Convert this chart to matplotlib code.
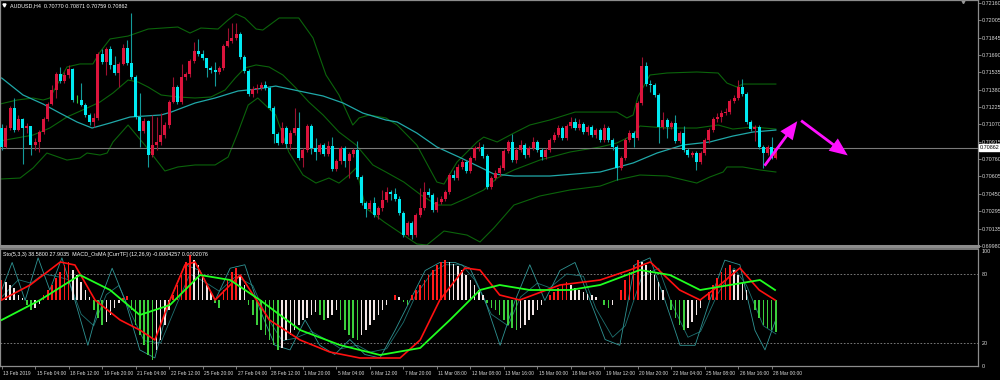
import matplotlib
matplotlib.use("Agg")
import matplotlib.pyplot as plt
import matplotlib.transforms as mtransforms
from matplotlib.patches import FancyArrowPatch
import numpy as np

# ---------------- data ----------------
symbol_title = "AUDUSD,H4  0.70770 0.70871 0.70759 0.70862"
sub_title = "Sto(5,3,3) 38.5800 27.9035  MACD_OsMA [CurrTF] (12,26,9) -0.0004257 0.0002076"

first_open = 0.71037
closes = [0.70867,0.71037,0.71216,0.71019,0.71118,0.71037,0.71055,0.70885,0.70912,0.71001,
          0.71118,0.71252,0.71378,0.71521,0.71458,0.71512,0.71566,0.71288,0.71288,0.71243,
          0.71154,0.71091,0.71127,0.71700,0.71628,0.71745,0.71602,0.71530,0.71611,0.71754,
          0.71619,0.71494,0.71136,0.71010,0.71100,0.70795,0.70885,0.70912,0.70974,0.71064,
          0.71270,0.71404,0.71270,0.71494,0.71521,0.71637,0.71727,0.71700,0.71664,0.71575,
          0.71557,0.71539,0.71575,0.71772,0.71817,0.71844,0.71879,0.71673,0.71548,0.71342,
          0.71387,0.71396,0.71422,0.71396,0.71216,0.70983,0.70903,0.71037,0.70894,0.70992,
          0.71037,0.70768,0.70840,0.71055,0.70858,0.70822,0.70885,0.70804,0.70876,0.70670,
          0.70741,0.70858,0.70741,0.70804,0.70840,0.70598,0.70365,0.70311,0.70365,0.70258,
          0.70320,0.70392,0.70464,0.70446,0.70401,0.70276,0.70078,0.70186,0.70078,0.70258,
          0.70320,0.70464,0.70437,0.70302,0.70374,0.70401,0.70464,0.70616,0.70589,0.70688,
          0.70732,0.70652,0.70768,0.70858,0.70867,0.70786,0.70508,0.70589,0.70634,0.70679,
          0.70831,0.70912,0.70750,0.70840,0.70885,0.70795,0.70858,0.70912,0.70840,0.70777,
          0.70840,0.70930,0.70974,0.71037,0.70948,0.71055,0.71091,0.71037,0.71073,0.71001,
          0.71046,0.70974,0.71019,0.70930,0.71037,0.70930,0.70867,0.70679,0.70768,0.70930,
          0.70992,0.70948,0.71261,0.71593,0.71431,0.71422,0.71333,0.71046,0.71109,0.71046,
          0.71082,0.70921,0.70992,0.70840,0.70795,0.70813,0.70732,0.70813,0.70930,0.71019,
          0.71118,0.71136,0.71171,0.71180,0.71279,0.71306,0.71404,0.71342,0.71091,0.71028,
          0.71046,0.70867,0.70813,0.70867,0.70770,0.70862]
highs = [0.71073,0.71064,0.71234,0.71306,0.71154,0.71127,0.71082,0.71055,0.70948,0.71019,
         0.71136,0.71270,0.71422,0.71539,0.71584,0.71539,0.71602,0.71575,0.71333,0.71440,
         0.71261,0.71171,0.71171,0.71718,0.71745,0.71763,0.71772,0.71682,0.71628,0.71790,
         0.71826,0.72068,0.71512,0.71351,0.71127,0.71109,0.71154,0.71136,0.71171,0.71091,
         0.71288,0.71494,0.71422,0.71611,0.71539,0.71655,0.71808,0.71835,0.71736,0.71664,
         0.71593,0.71628,0.71593,0.71790,0.71933,0.71978,0.71978,0.71897,0.71691,0.71566,
         0.71413,0.71431,0.71449,0.71458,0.71413,0.71234,0.71001,0.71091,0.71055,0.71019,
         0.71216,0.71180,0.70858,0.71073,0.71073,0.70948,0.70903,0.70903,0.70921,0.70956,
         0.70759,0.70876,0.70876,0.70822,0.70858,0.70921,0.70616,0.70383,0.70392,0.70419,
         0.70338,0.70482,0.70508,0.70482,0.70500,0.70428,0.70293,0.70204,0.70204,0.70276,
         0.70500,0.70553,0.70500,0.70455,0.70419,0.70428,0.70482,0.70634,0.70661,0.70715,
         0.70759,0.70750,0.70786,0.70876,0.70912,0.70894,0.70804,0.70607,0.70661,0.70706,
         0.70849,0.70930,0.70983,0.70867,0.70930,0.70903,0.70876,0.70956,0.70930,0.70858,
         0.70858,0.70948,0.71001,0.71064,0.71055,0.71073,0.71136,0.71127,0.71118,0.71091,
         0.71064,0.71064,0.71037,0.71037,0.71073,0.71055,0.70948,0.70885,0.70786,0.70948,
         0.71019,0.71010,0.71279,0.71673,0.71628,0.71467,0.71440,0.71351,0.71180,0.71127,
         0.71100,0.71154,0.71010,0.71055,0.70858,0.70831,0.70831,0.70831,0.70948,0.71037,
         0.71136,0.71171,0.71198,0.71216,0.71297,0.71333,0.71467,0.71476,0.71360,0.71109,
         0.71064,0.71064,0.70885,0.70885,0.70956,0.70871]
lows = [0.70840,0.70858,0.71019,0.71001,0.71010,0.70715,0.70992,0.70795,0.70840,0.70822,
        0.70983,0.71100,0.71243,0.71306,0.71440,0.71440,0.71485,0.71270,0.71261,0.71234,
        0.71136,0.71064,0.71046,0.71109,0.71611,0.71512,0.71566,0.71512,0.71404,0.71602,
        0.71602,0.71476,0.71118,0.70867,0.70992,0.70688,0.70777,0.70840,0.70885,0.70948,
        0.71037,0.71261,0.71252,0.71252,0.71467,0.71494,0.71619,0.71682,0.71646,0.71494,
        0.71530,0.71413,0.71521,0.71557,0.71763,0.71799,0.71826,0.71655,0.71530,0.71324,
        0.71315,0.71351,0.71378,0.71378,0.71198,0.70903,0.70885,0.70894,0.70858,0.70840,
        0.70974,0.70750,0.70688,0.70822,0.70804,0.70750,0.70804,0.70786,0.70786,0.70652,
        0.70652,0.70715,0.70688,0.70589,0.70777,0.70580,0.70347,0.70240,0.70293,0.70240,
        0.70222,0.70293,0.70374,0.70392,0.70383,0.70258,0.70060,0.70069,0.70043,0.70060,
        0.70240,0.70302,0.70419,0.70284,0.70284,0.70356,0.70383,0.70446,0.70571,0.70571,
        0.70670,0.70634,0.70634,0.70750,0.70831,0.70768,0.70491,0.70491,0.70571,0.70607,
        0.70661,0.70813,0.70732,0.70724,0.70822,0.70768,0.70777,0.70840,0.70822,0.70750,
        0.70759,0.70822,0.70912,0.70956,0.70930,0.70930,0.71037,0.71019,0.71019,0.70983,
        0.70974,0.70956,0.70948,0.70912,0.70912,0.70912,0.70840,0.70571,0.70661,0.70750,
        0.70912,0.70867,0.70930,0.71243,0.71413,0.71360,0.71315,0.70903,0.71028,0.70948,
        0.71028,0.70903,0.70903,0.70822,0.70777,0.70777,0.70661,0.70715,0.70795,0.70903,
        0.71001,0.71091,0.71091,0.71154,0.71163,0.71261,0.71288,0.71324,0.71073,0.71010,
        0.70921,0.70849,0.70679,0.70795,0.70759,0.70759]

# moving average (cyan) knots: (bar index, price)
ma_idx = [0,5.1,9.9,13.9,18,21.6,25.9,30.7,38.1,40.5,46.2,51,56.5,61.2,65.5,71,76.8,81.6,86.3,91.8,
          94.5,99.2,104,109.8,115.2,117.6,122.4,131,143,150.9,156.6,162.8,169.2,174.7,179.5,185]
ma_val = [0.71485,0.71333,0.71252,0.71171,0.71091,0.71037,0.71082,0.71136,0.71154,0.71180,0.71261,
          0.71306,0.71369,0.71387,0.71413,0.71369,0.71324,0.71261,0.71171,0.71109,0.71091,0.70992,
          0.70867,0.70768,0.70670,0.70625,0.70607,0.70607,0.70643,0.70724,0.70813,0.70885,0.70912,
          0.70965,0.71001,0.71019]

# envelope / bands (green) knots
up_idx = [-0.4,3.7,7.5,9.9,11.5,15.6,18.7,21.8,23.5,25.9,30.2,35,42.1,45,47.6,51.7,54.1,56,58.1,60.8,
          62.4,66.3,71,74.4,77.5,80.6,83.9,85.4,87.8,91.8,94.5,99.2,104,105.7,108.8,113.6,115.2,118.4,
          122.4,126.2,131,137,143,147,149.4,150.9,152,154.9,159,166.1,171.2,173.3,175.7,177.1,185]
up_val = [0.71252,0.71288,0.71306,0.71288,0.71306,0.71584,0.71611,0.71611,0.71718,0.71835,0.71861,
          0.71924,0.71942,0.71888,0.71933,0.71924,0.72005,0.72059,0.72023,0.71924,0.71915,0.72023,
          0.72023,0.71844,0.71512,0.71333,0.71064,0.71127,0.71154,0.71127,0.71064,0.70885,0.70553,
          0.70535,0.70732,0.70912,0.70956,0.70912,0.70992,0.71064,0.71109,0.71180,0.71180,0.71180,
          0.71127,0.71154,0.71315,0.71512,0.71530,0.71539,0.71530,0.71440,0.71404,0.71431,0.71431]
mid_idx = [-0.4,7.5,11.5,15.6,20.4,23.5,26.6,30.2,32.6,35,38.1,42.1,46.2,50,53.4,55.8,58.1,60.8,63.9,
           67.2,70.3,73.4,76.8,80.6,84.7,88.7,91.8,96.1,100.2,104,107.4,111.2,115.2,118.4,122.4,128.6,
           135.8,143,147,150.9,152.5,159,166.1,171.2,174.7,179.5,185]
mid_val = [0.70921,0.70974,0.71037,0.71136,0.71216,0.71270,0.71351,0.71467,0.71449,0.71404,0.71333,
           0.71315,0.71306,0.71315,0.71378,0.71485,0.71575,0.71602,0.71584,0.71512,0.71396,0.71270,
           0.71154,0.71001,0.70885,0.70706,0.70643,0.70553,0.70437,0.70347,0.70347,0.70410,0.70482,
           0.70589,0.70661,0.70750,0.70822,0.70867,0.70903,0.70974,0.71055,0.71037,0.71037,0.71064,
           0.71028,0.71046,0.71028]
low_idx = [-0.4,4.4,7.5,10.8,15.6,18.7,20.4,23.5,25.2,26.6,30.2,34.2,39,42.1,46.2,51,54.1,56.5,58.9,
           61.2,65.5,68.6,72,75.1,78.2,80.6,83,84.7,87,91.4,99.2,101.6,105.7,111.2,114.3,117.6,122.4,
           128.6,135.8,143,147,152.5,159,166.1,169.2,172.4,173.3,177.1,181.2,185]
low_val = [0.70580,0.70589,0.70679,0.70813,0.70750,0.70768,0.70813,0.70795,0.70813,0.70912,0.71064,
           0.70885,0.70652,0.70688,0.70706,0.70706,0.70777,0.71001,0.71243,0.71306,0.71154,0.70822,
           0.70616,0.70544,0.70589,0.70544,0.70616,0.70679,0.70320,0.70195,0.69998,0.69989,0.70114,
           0.70078,0.70016,0.70141,0.70347,0.70428,0.70482,0.70517,0.70571,0.70616,0.70607,0.70544,
           0.70598,0.70643,0.70688,0.70688,0.70661,0.70643]

# magenta arrows drawn on chart: (bar index, price)
arrow1 = [(181.9, 0.70679), (190.5, 0.71118)]
arrow2 = [(190.5, 0.71118), (202.7, 0.70777)]

price_ticks = [0.72160,0.72005,0.71845,0.71690,0.71535,0.71380,0.71225,0.71070,0.70915,
               0.70760,0.70605,0.70450,0.70295,0.70135,0.69980]
last_price = 0.70862

time_tick_idx = list(range(0, 185, 8))
time_labels = ["13 Feb 2019","15 Feb 04:00","18 Feb 12:00","19 Feb 20:00","21 Feb 04:00",
               "22 Feb 12:00","25 Feb 20:00","27 Feb 04:00","28 Feb 12:00","1 Mar 20:00",
               "5 Mar 04:00","6 Mar 12:00","7 Mar 20:00","11 Mar 08:00","12 Mar 08:00",
               "13 Mar 16:00","15 Mar 00:00","18 Mar 04:00","19 Mar 12:00","20 Mar 20:00",
               "22 Mar 04:00","25 Mar 08:00","26 Mar 16:00","28 Mar 00:00"]

# stochastic knots (bar index, value 0-100)
sto_idx = [0,2.5,5.6,8.7,11.5,14.4,17.5,20.6,23.5,26.4,29.5,33,36.6,40.2,43.8,47.4,51,54.6,58.1,61.7,
           65.3,68.9,72.5,76,79.6,83.2,86.8,90.4,94,97.6,101.2,104.7,108.3,111.9,115.5,119.1,122.7,
           126.2,129.8,133.4,137,140.6,144.2,147.7,151.3,154.9,158.5,162.1,165.7,169.2,172.8,176.4,
           180,182.4,184.8]
sto_main = [66,90,57,94,66,94,57,18,57,85,57,14,7,57,88,83,57,85,88,49,18,14,40,18,10,23,10,7,31,57,
            83,90,90,85,57,18,57,88,57,83,90,57,23,18,88,94,57,18,18,57,92,88,31,14,38.58]
sig_idx = [0,4,7,10,13,16,19,22,25,28,31,34,38,42,45,49,52,56,60,63,67,70,74,78,81,85,88,92,96,99,
           103,106,110,113,117,121,124,128,131,135,139,142,146,149,153,157,160,164,167,171,175,178,
           182,185]
sto_sig = [60,75,72,80,78,75,45,35,62,70,45,22,20,55,80,72,65,78,70,45,22,24,30,22,15,18,12,15,38,
           62,82,88,88,75,45,35,60,72,68,80,78,50,25,35,78,85,55,25,30,62,85,70,35,27.9]
sto_levels = [80, 20]

# MACD main / signal knots (x 1e-4)
macd_idx = [0,6.8,14,17.5,22.3,28.3,33,36.6,40.2,43.8,46.2,51,57,64,71.3,78.4,85.6,95.2,100,104.7,
            110.7,114.3,119,123.8,133.4,143,150.1,155,162,166.9,171.6,176.4,181,184.8]
macd_val = [0,3,7.6,7,0,-4,-6,-8,0,7,7.6,0,5,-4,-8,-10.4,-11.6,-11.6,-8,0,6.4,6,1,0,3,4,6,7.6,2,0,
            3,6.4,2,0]
sig2_idx = [0,9.2,18.7,25.9,33,40.2,47.4,54.6,61.7,71.3,80.8,90.4,100,107.1,114.3,119,126.2,135.8,
            143,152.5,159.7,166.9,174,181.2,184.8]
sig2_val = [-4,0,5,2,-3,-1,5,4,0,-6,-9,-11,-9.6,-4,2,3,2,2,3,6,5,2,3,4,2]
# OsMA histogram per bar (x 1e-4)
osma = [4.0,3.6,3.0,2.4, 1.0,0.4,-1.0,-2.0, -1.6,-0.8,1.0,2.0, 3.0,4.4,5.6,7.0,7.6,6.0,5.0,
        3.6,2.0,0.6, -2.0,-3.6,-5.0,-4.4,-3.0, -1.6,-0.6,0.4,0.8,
        -2.0,-5.0,-7.0,-9.0,-11.0,-12.0,-10.0,-8.0, -5.0,-2.0,1.0,
        3.0,5.6,7.6,9.0,8.0,7.0, 5.0,3.0,1.6,-0.6,-1.6, 2.0,4.0,5.6,6.4,5.0,3.0,
        -1.0,-3.0,-5.0,-6.0,-7.0,-8.0, -9.0,-10.0,-9.6,-8.0,-7.0,-6.0,-5.0,-4.0,
        -3.6,-3.0,-2.4,-3.0,-4.0,-3.6,-3.0,-2.0,
        -4.0,-6.0,-7.0,-7.6,-8.0,-7.0,-6.0,-5.0,-4.0,-3.0, -2.0,-1.0,0.0,1.0,0.6,-0.4,-1.0,
        1.0,2.0,3.0,4.0,5.0,6.0,7.0,7.6,8.0,7.6,7.2,6.8,6.0,5.0,4.0,
        3.0,2.0,1.0,-0.6,-1.6,-2.0, -3.0,-4.0,-5.0,-5.6,-6.0,-5.6,-5.0,-4.0,-3.0,-2.0,
        -1.0,0.0,1.0,1.6,2.4,3.0,3.6,3.0,2.4,2.0,1.6,1.2,
        1.0,0.6,0.0,-1.0,-1.6,-1.0,0.0,2.0,4.0,5.6, 7.0,8.0,7.6,7.0,6.0,5.0,3.6,
        2.0,0.0,-2.0,-3.6,-5.0,-6.0,-5.6,-4.4,-3.0,
        -1.6,0.0,1.6,3.0,4.4,5.6,6.4,7.0,6.0,5.0,3.6, 2.0,0.0,-2.0,-3.6,-5.0,-5.6,-6.0,-6.4]

# ---------------- styling ----------------
BG = "black"
AX = "#8c8c8c"
TXT = "#d8d8d8"
FONT = ["Liberation Sans Narrow", "Liberation Sans", "DejaVu Sans"]
FS = 3.9
FS_T = 3.5
BULL, BEAR = "#dc143c", "#00eaf2"
BULL_W, BEAR_W = "#9e1030", "#139a9a"

plt.rcParams["font.family"] = FONT
fig = plt.figure(figsize=(10, 3.8), dpi=100, facecolor=BG)

n = len(closes)
xs = np.arange(n)
c = np.array(closes)
o = np.array([first_open] + closes[:-1])
h = np.maximum(np.array(highs), np.maximum(o, c))
l = np.minimum(np.array(lows), np.minimum(o, c))
XMAX = 233.3

# ---------- main panel ----------
ax = fig.add_axes([0.0, 1 - 246 / 380, 0.978, 246 / 380])
ax.set_facecolor(BG)
ax.set_xlim(-0.4, XMAX)
ax.set_ylim(0.69980, 0.72184)

ax.plot(mid_idx, mid_val, color="#0b640b", lw=0.8, zorder=1)
ax.plot(up_idx, up_val, color="#0b640b", lw=0.8, zorder=1)
ax.plot(low_idx, low_val, color="#0b640b", lw=0.8, zorder=1)
ax.plot(ma_idx, ma_val, color="#20a8a8", lw=0.9, zorder=1)

ax.axhline(last_price, color="#7a7a7a", lw=0.8, zorder=1.5)

bull = c > o
bear = c < o
wcol = np.where(bull, BULL_W, np.where(bear, BEAR_W, "#32cd32"))
ax.vlines(xs, l, h, colors=wcol, lw=0.8, zorder=2)
bcol = np.where(bull, BULL, np.where(bear, BEAR, "#32cd32"))
body_h = np.maximum(np.abs(c - o), 0.000035)
ax.bar(xs, body_h, bottom=np.minimum(o, c), width=0.72, color=bcol, linewidth=0, zorder=3)

for (p0, p1) in (arrow1, arrow2):
    ax.add_patch(FancyArrowPatch(p0, p1, arrowstyle="simple,head_length=1.3,head_width=1.1,tail_width=0.2",
                                 mutation_scale=10, color="#ff10ff", lw=0, zorder=5))

ax.yaxis.tick_right()
ax.set_yticks(price_ticks)
ax.set_yticklabels([f"{p:.5f}" for p in price_ticks], fontsize=FS, color=TXT)
ax.tick_params(axis="y", colors=AX, length=2.0, width=0.6, pad=0.6, labelcolor=TXT)
ax.set_xticks([])
for s in ["left", "top", "right"]:
    ax.spines[s].set_color(AX)
    ax.spines[s].set_linewidth(0.9)
ax.spines["bottom"].set_color(AX)
ax.spines["bottom"].set_linewidth(2.2)
ax.text(1.002, last_price, "0.70862", transform=ax.get_yaxis_transform(), fontsize=FS, color="black",
        va="center", ha="left",
        bbox=dict(boxstyle="square,pad=0.12", fc="white", ec="white"), zorder=10, clip_on=False)
ax.text(0.010, 0.978, symbol_title, transform=ax.transAxes, fontsize=FS, color="white", va="center", ha="left")
ax.plot([0.0045], [0.978], marker="v", ms=2.2, color="white", transform=ax.transAxes, clip_on=False)
ax.plot([963 / 978], [0.995], marker="v", ms=3, color="#9a9a9a", transform=ax.transAxes, clip_on=False)

# ---------- lower panel ----------
ax2 = fig.add_axes([0.0, 14 / 380, 0.978, 117 / 380])
ax2.set_facecolor(BG)
ax2.set_xlim(-0.4, XMAX)
ax2.set_ylim(0, 101.7)
for lv in sto_levels:
    ax2.axhline(lv, color="#8a8a8a", lw=0.6, ls=(0, (2, 2)))
ax2.plot(sig_idx, sto_sig, color="#1e7070", lw=0.6, zorder=2)
ax2.plot(sto_idx, sto_main, color="#2f9494", lw=0.6, zorder=2)

ax3 = ax2.twinx()
ax3.set_ylim(-13.2, 10.2)
ax3.set_xlim(-0.4, XMAX)
hv = np.array(osma)
prev = np.concatenate([[hv[0]], hv[:-1]])
hcol = np.where((hv >= 0) & (hv >= prev), "#ff1a1a",
                np.where((hv < 0) & (hv <= prev), "#3ccf3c", "#f2e6e6"))
ax3.bar(xs, hv, width=0.38, color=hcol, linewidth=0, zorder=3)
ax3.plot(macd_idx, macd_val, color="#ff1010", lw=1.2, zorder=4)
ax3.plot(sig2_idx, sig2_val, color="#20ff20", lw=1.3, zorder=4)
ax3.set_yticks([])
for s in ax3.spines.values():
    s.set_visible(False)

ax2.yaxis.tick_right()
ax2.set_yticks([0, 20, 80, 100])
ax2.set_yticklabels(["0", "20", "80", "100"], fontsize=FS, color=TXT)
ax2.tick_params(axis="y", colors=AX, length=0, pad=2.5, labelcolor=TXT)
ax2.set_xticks(time_tick_idx)
ax2.set_xticklabels(time_labels, fontsize=FS_T, color=TXT, ha="left")
ax2.tick_params(axis="x", colors=AX, length=2.5, width=0.6, pad=1.0, labelcolor=TXT)
off = mtransforms.ScaledTranslation(1.5 / 100, 0, fig.dpi_scale_trans)
for lab in ax2.get_xticklabels():
    lab.set_transform(lab.get_transform() + off)
for s in ["left", "right", "bottom"]:
    ax2.spines[s].set_color(AX)
    ax2.spines[s].set_linewidth(0.9)
ax2.spines["top"].set_color(AX)
ax2.spines["top"].set_linewidth(1.2)
ax2.text(0.003, 0.955, sub_title, transform=ax2.transAxes, fontsize=FS, color="white", va="center",
         ha="left", zorder=10)

fig.savefig("out.png", dpi=100, facecolor=BG)
